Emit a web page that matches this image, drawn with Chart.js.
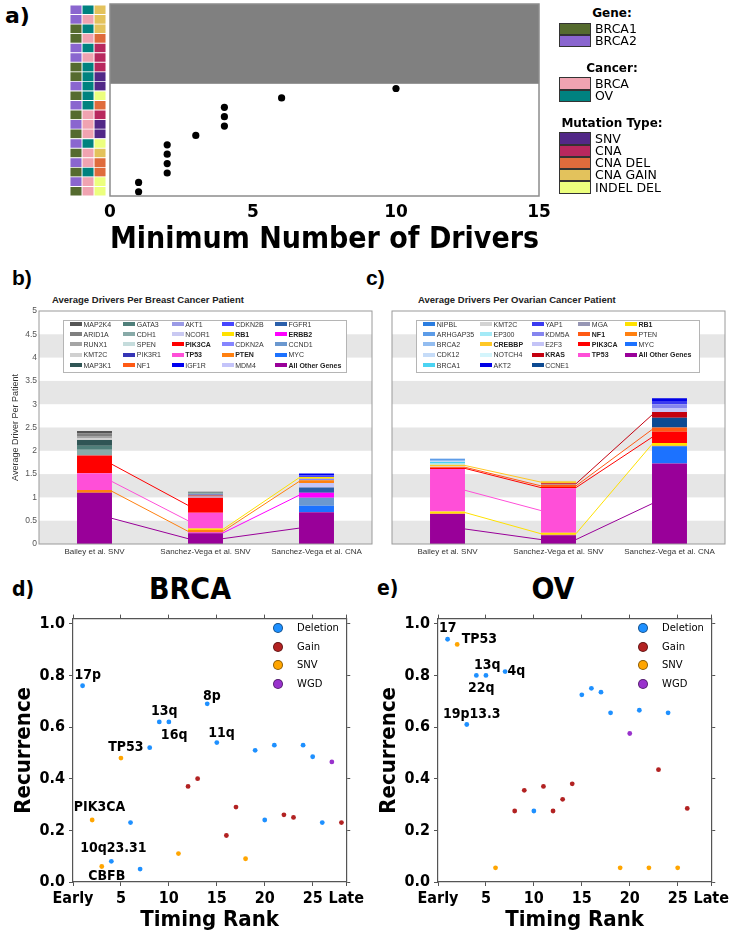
<!DOCTYPE html>
<html>
<head>
<meta charset="utf-8">
<title>Drivers figure</title>
<script src="https://cdn.jsdelivr.net/npm/chart.js"></script>
<style>
  body { margin: 0; background: #fff; }
  #page { position: relative; width: 735px; height: 933px; overflow: hidden; background: #fff; }
  canvas { position: absolute; }
  .txt { position: absolute; white-space: nowrap; line-height: 1; }
  .sw { position: absolute; box-sizing: border-box; border: 1px solid #333; }
  .lgbox { position: absolute; box-sizing: border-box; border: 1px solid #b5b5b5; background: #fff; }
  .lgitem { position: absolute; height: 10px; line-height: 10px; font-size: 7px; color: #333;
            white-space: nowrap; font-family: 'Liberation Sans', Arial, sans-serif; }
  .lgitem i { display: inline-block; width: 12px; height: 4px; vertical-align: middle;
              margin-right: 1.5px; position: relative; top: -1px; }
  .dot { position: absolute; width: 10px; height: 10px; border-radius: 50%; box-sizing: border-box;
         border: 1px solid rgba(0,0,0,0.45); transform: translate(-50%, -50%); }
</style>
</head>
<body>
<div id="page"></div>
<script>
// ---------- panel a: minimum number of drivers ----------
const rowGene = ['BRCA2','BRCA2','BRCA1','BRCA1','BRCA2','BRCA2','BRCA1','BRCA1','BRCA2','BRCA1',
                 'BRCA2','BRCA1','BRCA2','BRCA1','BRCA2','BRCA1','BRCA2','BRCA1','BRCA2','BRCA1'];
const rowCancer = ['OV','BRCA','OV','BRCA','OV','BRCA','OV','OV','OV','OV',
                   'OV','BRCA','BRCA','BRCA','OV','BRCA','BRCA','OV','BRCA','BRCA'];
const rowMutation = ['CNA GAIN','CNA GAIN','CNA GAIN','CNA DEL','CNA','CNA','CNA','SNV','SNV','INDEL DEL',
                     'CNA DEL','CNA','SNV','SNV','INDEL DEL','CNA GAIN','CNA DEL','CNA DEL','INDEL DEL','INDEL DEL'];
const minDrivers = [null,null,null,null,null,null,null,null,10,6,4,4,4,3,2,2,2,2,1,1];
const driverTicks = [0, 5, 10, 15];

const geneLevels = ['BRCA1', 'BRCA2'];
const geneColors = ['#556b2f', '#8a66cf'];
const cancerLevels = ['BRCA', 'OV'];
const cancerColors = ['#f0a3b1', '#00827f'];
const mutationLevels = ['SNV', 'CNA', 'CNA DEL', 'CNA GAIN', 'INDEL DEL'];
const mutationColors = ['#522887', '#b8285e', '#df6b3c', '#e3c25c', '#ecff7e'];

// ---------- panels b / c: average drivers per patient ----------
const studies = ['Bailey et al. SNV', 'Sanchez-Vega et al. SNV', 'Sanchez-Vega et al. CNA'];
const stackTicks = [0, 0.5, 1, 1.5, 2, 2.5, 3, 3.5, 4, 4.5, 5];

// stacking order, bottom to top
const bGenes = ['All Other Genes','MYC','CCND1','ERBB2','FGFR1','MDM4','PTEN','CDKN2A','RB1','CDKN2B',
                'IGF1R','TP53','PIK3CA','NCOR1','AKT1','NF1','PIK3R1','SPEN','CDH1','GATA3',
                'MAP3K1','KMT2C','RUNX1','ARID1A','MAP2K4'];
const bBailey = [1.10,0,0,0,0,0,0.06,0,0,0, 0,0.36,0.38,0,0,0,0,0,0.12,0.09, 0.12,0.04,0.05,0.055,0.05];
const bSvSnv  = [0.23,0,0,0.015,0,0,0.055,0,0.03,0, 0,0.34,0.32,0.01,0.02,0.02,0.02,0.005,0.02,0.01, 0.01,0.005,0,0.005,0.005];
const bSvCna  = [0.68,0.14,0.17,0.11,0.11,0.10,0.06,0.03,0.04,0.03, 0.045,0,0,0,0,0,0,0,0,0, 0,0,0,0,0];
const bColors = ['#990099','#1c72ff','#6b98cf','#ff00ff','#2a5faa','#c4c4fa','#ff8010','#8585ff','#ffe100','#4545ff',
                 '#0000f0','#ff4fd8','#ff0000','#c9c9f2','#9a9ae6','#ff5a14','#3535b5','#c5dcdc','#88aaa8','#4f7f7a',
                 '#2f5555','#d0d0d0','#a5a5a5','#7f7f7f','#555555'];
const bBold = ['All Other Genes','ERBB2','PTEN','RB1','TP53','PIK3CA'];

const cGenes = ['All Other Genes','MYC','PTEN','RB1','TP53','PIK3CA','NF1','MGA','CCNE1','KRAS',
                'E2F3','KDM5A','YAP1','AKT2','NOTCH4','CREBBP','EP300','KMT2C','BRCA1','CDK12',
                'BRCA2','ARHGAP35','NIPBL'];
const cBailey = [0.645,0,0.01,0.04,0.915,0.025,0.025,0,0,0, 0,0,0,0,0.01,0.03,0.02,0.01,0.03,0.02, 0.02,0.01,0.02];
const cSvSnv  = [0.19,0,0.01,0.04,0.955,0.03,0.045,0.01,0,0.025, 0,0,0,0,0.005,0.035,0.005,0.005,0,0, 0,0,0];
const cSvCna  = [1.73,0.37,0.01,0.06,0,0.24,0.09,0,0.21,0.12, 0.09,0.08,0.07,0.06,0,0,0,0,0,0, 0,0,0];
const cColors = ['#990099','#1c72ff','#ff8010','#ffe100','#ff4fd8','#ff0000','#ff5a14','#9696b4','#0d4a92','#c4000f',
                 '#c4c4f7','#8585ef','#3a3af0','#0000e6','#d4f5fc','#ffc825','#a4eaf7','#d3d3d3','#4bd3f2','#c6dcf8',
                 '#93bdf0','#5c9ce8','#2a7de0'];
const cBold = ['All Other Genes','RB1','TP53','PIK3CA','NF1','KRAS','CREBBP'];

// ---------- panels d / e: timing rank vs recurrence ----------
const eventTypes = ['Deletion', 'Gain', 'SNV', 'WGD'];
const eventColors = ['#1e90ff', '#b22222', '#ffa500', '#9932cc'];
const timingTicks = [0, 5, 10, 15, 20, 25, 28.5];
const recurrenceTicks = [0, 0.2, 0.4, 0.6, 0.8, 1.0];

const dRank = [1,2,3,4,5,6,7,8,9,10,11,12,13,14,15,16,17,18,19,20,21,22,23,24,25,26,27,28];
const dRecurrence = [0.76,0.24,0.06,0.08,0.48,0.23,0.05,0.52,0.62,0.62,0.11,0.37,0.40,0.69,
                     0.54,0.18,0.29,0.09,0.51,0.24,0.53,0.26,0.25,0.53,0.485,0.23,0.465,0.23];
const dType = ['Deletion','SNV','SNV','Deletion','SNV','Deletion','Deletion','Deletion','Deletion','Deletion',
               'SNV','Gain','Gain','Deletion','Deletion','Gain','Gain','SNV','Deletion','Deletion',
               'Deletion','Gain','Gain','Deletion','Deletion','Deletion','WGD','Gain'];
const dLabelText = ['17p','13q','8p','16q','11q','TP53','PIK3CA','10q23.31','CBFB'];
const dLabelX = [1.55, 9.52, 14.48, 10.55, 15.48, 5.52, 2.76, 4.21, 3.52];
const dLabelY = [0.80, 0.662, 0.718, 0.567, 0.576, 0.521, 0.289, 0.132, 0.022];

const eRank = [1,2,3,4,5,6,7,8,9,10,11,12,13,14,15,16,17,18,19,20,21,22,23,24,25,26];
const eRecurrence = [0.94,0.92,0.61,0.80,0.80,0.055,0.815,0.275,0.355,0.275,0.37,0.275,0.32,0.38,
                     0.725,0.75,0.735,0.655,0.055,0.575,0.665,0.055,0.435,0.655,0.055,0.285];
const eType = ['Deletion','SNV','Deletion','Deletion','Deletion','SNV','Deletion','Gain','Gain','Deletion',
               'Gain','Gain','Gain','Gain','Deletion','Deletion','Deletion','Deletion','SNV','WGD',
               'Deletion','SNV','Gain','Deletion','SNV','Gain'];
const eLabelText = ['17','TP53','13q','4q','22q','19p13.3'];
const eLabelX = [1.03, 4.31, 5.14, 8.17, 4.52, 3.52];
const eLabelY = [0.983, 0.939, 0.839, 0.815, 0.748, 0.648];

// ---------- helpers ----------
const page = document.getElementById('page');
const DV = "'DejaVu Sans', sans-serif";
const DVC = "'DejaVu Sans Condensed', 'DejaVu Sans', sans-serif";
const LIB = "'Liberation Sans', Arial, sans-serif";

function makeCanvas(left, top, w, h) {
  const c = document.createElement('canvas');
  c.width = w; c.height = h;
  c.style.left = left + 'px'; c.style.top = top + 'px';
  c.style.width = w + 'px'; c.style.height = h + 'px';
  page.appendChild(c);
  return c;
}

function addText(text, x, y, o = {}) {
  const d = document.createElement('div');
  d.className = 'txt';
  d.textContent = text;
  d.style.left = x + 'px';
  d.style.top = y + 'px';
  d.style.fontFamily = o.family || DV;
  d.style.fontSize = (o.size || 12) + 'px';
  d.style.fontWeight = o.weight || 'normal';
  d.style.color = o.color || '#000';
  const tx = o.align === 'center' ? '-50%' : '0';
  d.style.transform = `translate(${tx}, -50%)`;
  page.appendChild(d);
  return d;
}

function addBox(cls, left, top, w, h, bg) {
  const d = document.createElement('div');
  d.className = cls;
  d.style.left = left + 'px'; d.style.top = top + 'px';
  d.style.width = w + 'px'; d.style.height = h + 'px';
  if (bg) d.style.background = bg;
  page.appendChild(d);
  return d;
}

function makeFrame(color, width) {
  return {
    id: 'frame',
    afterDraw(chart) {
      const { ctx, chartArea: a } = chart;
      ctx.save();
      ctx.strokeStyle = color;
      ctx.lineWidth = width;
      ctx.strokeRect(a.left, a.top, a.right - a.left, a.bottom - a.top);
      ctx.restore();
    }
  };
}

const base = {
  responsive: false,
  animation: false,
  events: [],
};
const noPlugins = { legend: { display: false }, tooltip: { enabled: false } };

// ---------- panel a ----------
addText('a)', 5, 16, { size: 22, weight: 'bold' });

// the gene / cancer / mutation cells beside each row
const pick = (levels, colors) => name => colors[levels.indexOf(name)];
new Chart(makeCanvas(68, 0, 40, 200), {
  type: 'bar',
  data: {
    labels: rowGene.map((g, i) => String(i + 1)),
    datasets: [
      { data: rowGene.map(() => 1), backgroundColor: rowGene.map(pick(geneLevels, geneColors)) },
      { data: rowCancer.map(() => 1), backgroundColor: rowCancer.map(pick(cancerLevels, cancerColors)) },
      { data: rowMutation.map(() => 1), backgroundColor: rowMutation.map(pick(mutationLevels, mutationColors)) }
    ].map(ds => Object.assign(ds, { barPercentage: 1, categoryPercentage: 1, borderWidth: 0.8,
                                    borderColor: '#ffffff', borderSkipped: false }))
  },
  options: Object.assign({}, base, {
    indexAxis: 'y',
    layout: { padding: { left: 2, right: 2, top: 5, bottom: 4 } },
    plugins: noPlugins,
    scales: {
      x: { stacked: true, display: false, min: 0, max: 3 },
      y: { stacked: true, display: false }
    }
  })
});

// rows whose minimum is never reached are shaded from the top of the plot
const grayRows = {
  id: 'grayRows',
  beforeDatasetsDraw(chart) {
    const { ctx, chartArea: a, scales: { y } } = chart;
    let last = -1;
    minDrivers.forEach((v, i) => { if (v === null) last = i; });
    if (last < 0) return;
    const yEnd = y.getPixelForValue(last + 0.5);
    ctx.save();
    ctx.fillStyle = '#808080';
    ctx.fillRect(a.left, a.top, a.right - a.left, yEnd - a.top);
    ctx.restore();
  }
};

new Chart(makeCanvas(0, 0, 560, 260), {
  type: 'scatter',
  data: {
    datasets: [{
      data: minDrivers.map((v, i) => (v === null ? null : { x: v, y: i })).filter(p => p),
      backgroundColor: '#000', borderWidth: 0, pointRadius: 3.6
    }]
  },
  options: Object.assign({}, base, {
    layout: { padding: { left: 110, right: 21, top: 4, bottom: 0 } },
    plugins: noPlugins,
    scales: {
      x: {
        min: 0, max: 15,
        afterBuildTicks: s => { s.ticks = driverTicks.map(v => ({ value: v })); },
        ticks: { font: { family: DV, size: 17, weight: 'bold' }, color: '#000', padding: 6 },
        grid: { display: false, drawTicks: false },
        border: { display: false },
        title: { display: true, text: 'Minimum Number of Drivers', color: '#000',
                 font: { family: DV, size: 29.5, weight: 'bold' }, padding: { top: 0, bottom: 2 } },
        afterFit: s => { s.height = 64; }
      },
      y: { display: false, min: -1.0, max: rowGene.length - 0.55, reverse: true }
    }
  }),
  plugins: [grayRows, makeFrame('#8c8c8c', 1.5)]
});

// legend of panel a
function legendGroup(title, levels, colors, titleY, swTop) {
  addText(title, 612, titleY, { size: 12, weight: 'bold', align: 'center' });
  levels.forEach((name, i) => {
    addBox('sw', 559, swTop + i * 12.2, 32, 12.6, colors[i]);
    addText(name, 595, swTop + i * 12.2 + 6.4, { size: 12.5 });
  });
}
legendGroup('Gene:', geneLevels, geneColors, 13, 22.7);
legendGroup('Cancer:', cancerLevels, cancerColors, 68, 77.4);
legendGroup('Mutation Type:', mutationLevels, mutationColors, 122.7, 132.3);

// ---------- panels b / c ----------
const barFrac = 0.315;

const bands = {
  id: 'bands',
  beforeDatasetsDraw(chart) {
    const { ctx, chartArea: a, scales: { y } } = chart;
    ctx.save();
    ctx.fillStyle = '#e6e6e6';
    for (let j = 0; j + 1 < stackTicks.length; j += 2) {
      const y0 = y.getPixelForValue(stackTicks[j]), y1 = y.getPixelForValue(stackTicks[j + 1]);
      ctx.fillRect(a.left, Math.min(y0, y1), a.right - a.left, Math.abs(y1 - y0));
    }
    ctx.restore();
  }
};

function stackDatasets(genes, cols, colors, bold) {
  const bars = genes.map((g, k) => ({
    type: 'bar', label: g, data: cols.map(c => c[k]), backgroundColor: colors[k],
    borderWidth: 0, barPercentage: barFrac, categoryPercentage: 1, grouped: false,
    xAxisID: 'x', yAxisID: 'y'
  }));
  // thin links join the middle of a highlighted gene's segment in neighbouring bars
  const mid = (col, k) => col.slice(0, k).reduce((s, v) => s + v, 0) + col[k] / 2;
  const links = [];
  genes.forEach((g, k) => {
    if (!bold.includes(g)) return;
    for (let i = 0; i + 1 < cols.length; i++) {
      if (!(cols[i][k] > 0 && cols[i + 1][k] > 0)) continue;
      links.push({
        type: 'line', label: g,
        data: [{ x: i + barFrac / 2, y: mid(cols[i], k) }, { x: i + 1 - barFrac / 2, y: mid(cols[i + 1], k) }],
        borderColor: colors[k], borderWidth: 1, pointRadius: 0, fill: false, tension: 0,
        xAxisID: 'xl', yAxisID: 'yl'
      });
    }
  });
  return bars.concat(links);
}

function stackChart(left, width, yWidth, padRight, genes, cols, colors, bold, showY) {
  return new Chart(makeCanvas(left, 290, width, 275), {
    type: 'bar',
    data: { labels: studies, datasets: stackDatasets(genes, cols, colors, bold) },
    options: Object.assign({}, base, {
      layout: { padding: { left: 0, right: padRight, top: 21, bottom: 0 } },
      plugins: noPlugins,
      scales: {
        x: {
          stacked: true,
          ticks: { font: { family: LIB, size: 8 }, color: '#333', padding: 3, maxRotation: 0, autoSkip: false },
          grid: { display: false, drawTicks: false }, border: { display: false },
          afterFit: s => { s.height = 21; }
        },
        y: {
          stacked: true, min: 0, max: 5,
          afterBuildTicks: s => { s.ticks = stackTicks.map(v => ({ value: v })); },
          ticks: { display: showY, font: { family: LIB, size: 8.5 }, color: '#555', padding: 2,
                   callback: v => String(v) },
          grid: { display: false, drawTicks: false }, border: { display: false },
          title: { display: showY, text: 'Average Driver Per Patient', color: '#333',
                   font: { family: LIB, size: 9 }, padding: { top: 10.6, bottom: 0 } },
          afterFit: s => { s.width = yWidth; }
        },
        xl: { type: 'linear', display: false, offset: false, min: -0.5, max: studies.length - 0.5 },
        yl: { type: 'linear', display: false, offset: false, min: 0, max: 5 }
      }
    }),
    plugins: [bands, makeFrame('#9a9a9a', 1)]
  });
}

function stackLegend(genes, colors, bold, boxLeft, colLefts) {
  addBox('lgbox', boxLeft, 320, 284, 53);
  const items = genes.map((g, k) => ({ g, c: colors[k] })).reverse();
  const ncol = 5;
  const nrow = Math.ceil(items.length / ncol);
  const large = items.length % ncol === 0 ? ncol : items.length % ncol;
  let idx = 0;
  for (let c = 0; c < ncol; c++) {
    const n = c < large ? nrow : nrow - 1;
    for (let r = 0; r < n && idx < items.length; r++, idx++) {
      const it = items[idx];
      const d = document.createElement('div');
      d.className = 'lgitem';
      d.style.left = colLefts[c] + 'px';
      d.style.top = (324.7 + r * 10.25 - 5) + 'px';
      if (bold.includes(it.g)) { d.style.fontWeight = 'bold'; d.style.color = '#222'; }
      const sw = document.createElement('i');
      sw.style.background = it.c;
      d.appendChild(sw);
      d.appendChild(document.createTextNode(it.g));
      page.appendChild(d);
    }
  }
}

addText('b)', 12, 277, { size: 21, weight: 'bold', family: LIB });
addText('c)', 366, 277, { size: 21, weight: 'bold', family: LIB });
addText('Average Drivers Per Breast Cancer Patient', 52, 300, { size: 9.5, weight: 'bold', family: LIB, color: '#222' });
addText('Average Drivers Per Ovarian Cancer Patient', 418, 300, { size: 9.5, weight: 'bold', family: LIB, color: '#222' });

stackChart(0, 380, 39, 8, bGenes, [bBailey, bSvSnv, bSvCna], bColors, bBold, true);
stackChart(380, 355, 12, 10, cGenes, [cBailey, cSvSnv, cSvCna], cColors, cBold, false);
stackLegend(bGenes, bColors, bBold, 63, [70, 123.3, 171.7, 221.7, 275]);
stackLegend(cGenes, cColors, cBold, 416, [423.3, 480, 531.7, 578.3, 625]);

// ---------- panels d / e ----------
const spine = '#555';
function timingAxis(position, extra) {
  return Object.assign({
    type: 'linear', position,
    grid: { display: true, drawOnChartArea: false, drawTicks: true, tickLength: 4, color: spine, lineWidth: 1 },
    border: { display: true, color: spine, width: 1.2 }
  }, extra);
}

function timingChart(left, ranks, recur, types, labText, labX, labY) {
  const datasets = eventTypes.map((t, j) => ({
    label: t,
    data: ranks.map((r, i) => ({ x: r, y: recur[i], t: types[i] })).filter(p => p.t === t),
    backgroundColor: eventColors[j], borderWidth: 0, pointRadius: 2.4
  }));
  const labels = {
    id: 'pointLabels',
    afterDatasetsDraw(chart) {
      const { ctx, scales: { x, y } } = chart;
      ctx.save();
      ctx.font = `bold 14px ${DVC}`;
      ctx.fillStyle = '#000';
      ctx.textAlign = 'center';
      ctx.textBaseline = 'middle';
      labText.forEach((t, i) => ctx.fillText(t, x.getPixelForValue(labX[i]), y.getPixelForValue(labY[i])));
      ctx.restore();
    }
  };
  const xTicks = s => { s.ticks = timingTicks.map(v => ({ value: v })); };
  const yTicks = s => { s.ticks = recurrenceTicks.map(v => ({ value: v })); };
  const tickFont = { family: DVC, size: 16, weight: 'bold' };
  const titleFont = { family: DVC, size: 22, weight: 'bold' };
  return new Chart(makeCanvas(left, 605, 367, 328), {
    type: 'scatter',
    data: { datasets },
    options: Object.assign({}, base, {
      layout: { padding: 0 },
      plugins: noPlugins,
      scales: {
        x: timingAxis('bottom', {
          min: 0, max: 28.5, afterBuildTicks: xTicks,
          ticks: { font: tickFont, color: '#000', padding: 3, autoSkip: false, maxRotation: 0,
                   callback: v => (v === 0 ? 'Early' : v === 28.5 ? 'Late' : v) },
          title: { display: true, text: 'Timing Rank', color: '#000', font: titleFont, padding: { top: 0, bottom: 0 } },
          afterFit: s => { s.height = 51; }
        }),
        y: timingAxis('left', {
          min: 0, max: 1.02, afterBuildTicks: yTicks,
          ticks: { font: tickFont, color: '#000', padding: 4, callback: v => v.toFixed(1) },
          title: { display: true, text: 'Recurrence', color: '#000', font: titleFont, padding: { top: 11, bottom: 0 } },
          afterFit: s => { s.width = 73; }
        }),
        x2: timingAxis('top', {
          min: 0, max: 28.5, afterBuildTicks: xTicks, ticks: { display: false },
          afterFit: s => { s.height = 10; }
        }),
        y2: timingAxis('right', {
          min: 0, max: 1.02, afterBuildTicks: yTicks, ticks: { display: false },
          afterFit: s => { s.width = 19; }
        })
      }
    }),
    plugins: [labels]
  });
}

function timingLegend(dotX) {
  eventTypes.forEach((t, j) => {
    const yy = 628 + j * 18.7;
    addBox('dot', dotX, yy, 10, 10, eventColors[j]);
    addText(t, dotX + 19, yy, { size: 10 });
  });
}

addText('d)', 12, 589, { size: 21, weight: 'bold', family: DVC });
addText('e)', 377, 588, { size: 21, weight: 'bold', family: DVC });
addText('BRCA', 190, 589, { size: 30, weight: 'bold', family: DVC, align: 'center' });
addText('OV', 553, 589, { size: 30, weight: 'bold', family: DVC, align: 'center' });

timingChart(0, dRank, dRecurrence, dType, dLabelText, dLabelX, dLabelY);
timingChart(365, eRank, eRecurrence, eType, eLabelText, eLabelX, eLabelY);
timingLegend(278);
timingLegend(643);
</script>
</body>
</html>
